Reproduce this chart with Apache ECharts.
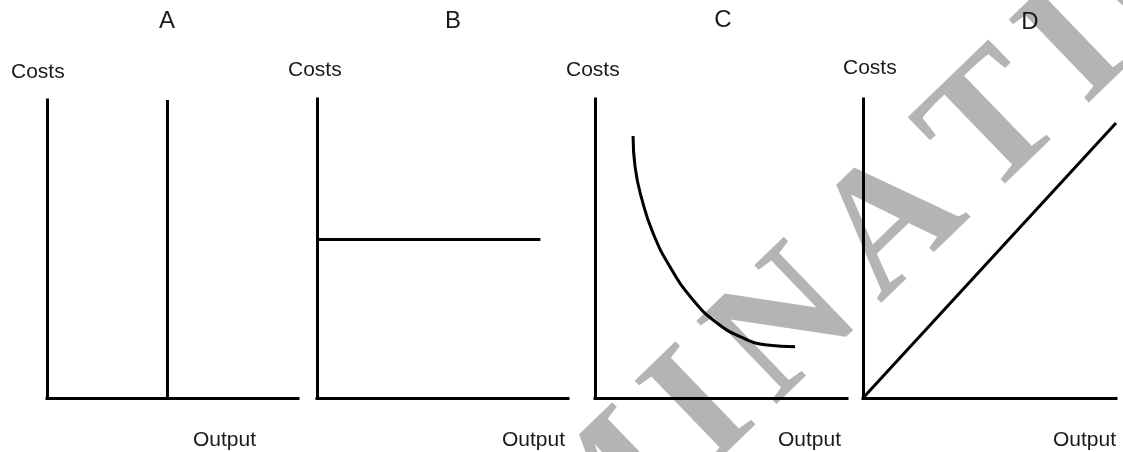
<!DOCTYPE html>
<html>
<head>
<meta charset="utf-8">
<script src="https://cdn.jsdelivr.net/npm/echarts@6/dist/echarts.min.js"></script>
<style>
html,body{margin:0;padding:0;background:#fff;}
#chart{width:1123px;height:452px;}
</style>
</head>
<body>
<div id="chart"></div>
<script>
// ---- data ----
const panelTitles = ['A', 'B', 'C', 'D'];
const yAxisName = 'Costs';
const xAxisName = 'Output';
const watermarkText = 'EXAMINATION';
// Panel A: vertical cost line (x = output level)
const lineA = [[4.8, 0], [4.8, 10]];
// Panel B: horizontal cost line
const lineB = [[0, 5.3], [8.9, 5.3]];
// Panel C: falling curve
const lineC = [[1.51, 8.76], [1.59, 7.73], [1.87, 6.62], [2.30, 5.52], [2.98, 4.38], [3.89, 3.28], [4.84, 2.51], [5.87, 2.01], [6.83, 1.77], [7.94, 1.71]];
// Panel D: rising straight line from origin
const lineD = [[0, 0], [10, 9.2]];

const panelData = [lineA, lineB, lineC, lineD];
const smoothFlags = [false, false, true, false];

// ---- layout ----
const grids = [
  {left: 47, top: 100, width: 251, height: 298},
  {left: 317, top: 99, width: 251, height: 299},
  {left: 595, top: 99, width: 252, height: 299},
  {left: 863, top: 99, width: 253, height: 299}
];
const titlePos = [[167, 21], [453, 21], [723, 20], [1030, 22]];
const costsPos = [[11, 72], [288, 70], [566, 70], [843, 68]];
const outputPos = [[193, 440], [502, 440], [778, 440], [1053, 440]];

const axisLineStyle = {color: '#000', width: 3, cap: 'square'};
const xAxes = [], yAxes = [], series = [], graphics = [];

// ---- watermark (decoration, letter-spaced, rotated) ----
(function () {
  const fs = 176, spacing = 20, theta = 44 * Math.PI / 180;
  const font = 'bold ' + fs + 'px "Liberation Serif"';
  const c = Math.cos(theta), s = Math.sin(theta);
  const ctx = document.createElement('canvas').getContext('2d');
  ctx.font = font;
  const letters = watermarkText.split('');
  const adv = [];
  let acc = 0;
  letters.forEach((ch) => { adv.push(acc); acc += ctx.measureText(ch).width + spacing; });
  // anchor: baseline-left of the 7th letter (second "A")
  const anchor = [874, 298], ai = 6;
  const b0 = [anchor[0] - adv[ai] * c, anchor[1] + adv[ai] * s];
  const base = 0.21 * fs;
  letters.forEach((ch, i) => {
    const bx = b0[0] + adv[i] * c, by = b0[1] - adv[i] * s;
    graphics.push({type: 'text', x: bx - base * s, y: by - base * c, rotation: theta, z: 0, silent: true,
      style: {text: ch, font: font, fill: '#b4b4b4', align: 'left', verticalAlign: 'middle'}});
  });
})();

grids.forEach((g, i) => {
  xAxes.push({type: 'value', gridIndex: i, min: 0, max: 10, z: 3,
    axisLine: {show: true, onZero: false, lineStyle: axisLineStyle},
    axisTick: {show: false}, axisLabel: {show: false}, splitLine: {show: false}});
  yAxes.push({type: 'value', gridIndex: i, min: 0, max: 10, z: 3,
    axisLine: {show: true, onZero: false, lineStyle: axisLineStyle},
    axisTick: {show: false}, axisLabel: {show: false}, splitLine: {show: false}});
  series.push({type: 'line', xAxisIndex: i, yAxisIndex: i, data: panelData[i],
    smooth: smoothFlags[i], showSymbol: false, symbol: 'none', clip: false, z: 4,
    lineStyle: {color: '#000', width: 3}, silent: true});
  graphics.push({type: 'text', x: titlePos[i][0], y: titlePos[i][1], z: 5,
    style: {text: panelTitles[i], font: '24px "Liberation Sans"', fill: '#1a1a1a', align: 'center', verticalAlign: 'middle'}});
  graphics.push({type: 'text', x: costsPos[i][0], y: costsPos[i][1], z: 5,
    style: {text: yAxisName, font: '21px "Liberation Sans"', fill: '#1a1a1a', align: 'left', verticalAlign: 'middle'}});
  graphics.push({type: 'text', x: outputPos[i][0], y: outputPos[i][1], z: 5,
    style: {text: xAxisName, font: '21px "Liberation Sans"', fill: '#1a1a1a', align: 'left', verticalAlign: 'middle'}});
});

const chart = echarts.init(document.getElementById('chart'), null, {renderer: 'canvas'});
chart.setOption({
  animation: false,
  backgroundColor: '#fff',
  grid: grids,
  xAxis: xAxes,
  yAxis: yAxes,
  series: series,
  graphic: graphics
});
</script>
</body>
</html>
